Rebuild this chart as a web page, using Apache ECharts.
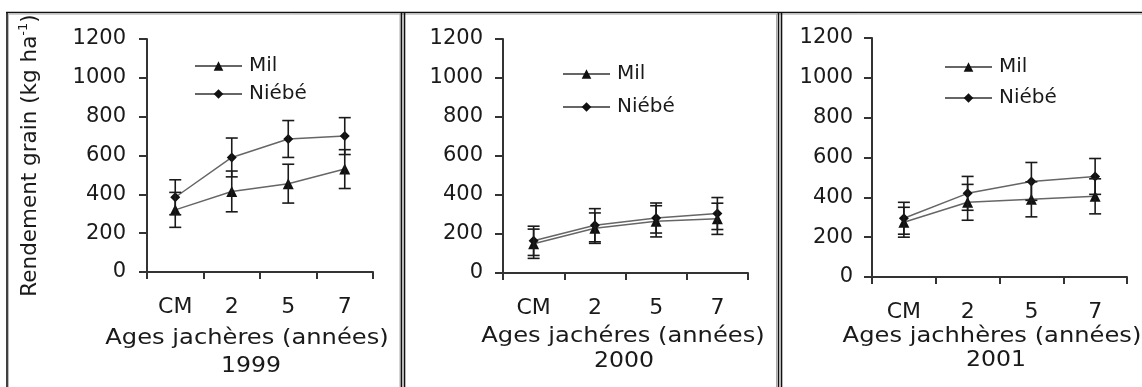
<!DOCTYPE html>
<html><head><meta charset="utf-8">
<script src="https://cdn.jsdelivr.net/npm/echarts@6/dist/echarts.min.js"></script>
<style>html,body{margin:0;padding:0;background:#fff}#c{width:1142px;height:387px}</style>
</head><body><div id="c"></div>
<script>
// ---- data ----
const categories = ['CM', '2', '5', '7'];
const years = ['1999', '2000', '2001'];
const xTitles = ['Ages jachères (années)', 'Ages jachéres (années)', 'Ages jachhères (années)'];
const seriesNames = ['Mil', 'Niébé'];
const yMin = 0, yMax = 1200, yStep = 200;

const mil1999 = [320, 415, 455, 530];
const milErr1999 = [90, 105, 100, 100];
const niebe1999 = [385, 590, 685, 700];
const niebeErr1999 = [90, 100, 95, 95];

const mil2000 = [150, 230, 265, 278];
const milErr2000 = [75, 78, 80, 80];
const niebe2000 = [165, 245, 282, 305];
const niebeErr2000 = [75, 85, 77, 82];

const mil2001 = [275, 375, 390, 405];
const milErr2001 = [75, 90, 88, 88];
const niebe2001 = [295, 420, 480, 505];
const niebeErr2001 = [80, 85, 95, 90];

const panels = [
  { mil: mil1999, milErr: milErr1999, niebe: niebe1999, niebeErr: niebeErr1999 },
  { mil: mil2000, milErr: milErr2000, niebe: niebe2000, niebeErr: niebeErr2000 },
  { mil: mil2001, milErr: milErr2001, niebe: niebe2001, niebeErr: niebeErr2001 }
];

// ---- layout ----
const FONT = 'DejaVu Sans';
const TXT = '#1a1a1a';
const AX = '#333';
const grids = [
  { left: 147, top: 39, width: 226, height: 233 },
  { left: 503, top: 39, width: 245, height: 234 },
  { left: 872, top: 38, width: 255, height: 239 }
];
const legendPos = [
  { left: 194, top: 56, itemGap: 8 },
  { left: 562, top: 64, itemGap: 13 },
  { left: 944, top: 57, itemGap: 11 }
];
const labelMargins = [21, 20, 19];
const titlePos = [[247, 339], [623, 337], [992, 337]];
const yearPos = [[251, 367], [624, 362], [996, 361]];

function errRender(params, api) {
  const i = api.value(0), lo = api.value(1), hi = api.value(2);
  const t = api.coord([i, hi]), b = api.coord([i, lo]);
  const hw = 6;
  const st = { stroke: '#1a1a1a', lineWidth: 1.6 };
  return { type: 'group', children: [
    { type: 'line', shape: { x1: t[0], y1: t[1], x2: b[0], y2: b[1] }, style: st },
    { type: 'line', shape: { x1: t[0] - hw, y1: t[1], x2: t[0] + hw, y2: t[1] }, style: st },
    { type: 'line', shape: { x1: b[0] - hw, y1: b[1], x2: b[0] + hw, y2: b[1] }, style: st }
  ]};
}

const xAxes = [], yAxes = [], series = [], legends = [], graphics = [];
panels.forEach((p, k) => {
  xAxes.push({
    type: 'category', gridIndex: k, data: categories, boundaryGap: true,
    axisLine: { lineStyle: { color: AX, width: 2 } },
    axisTick: { show: true, length: 7, lineStyle: { color: AX, width: 2 } },
    axisLabel: { color: TXT, fontFamily: FONT, fontSize: 22, margin: 24 },
    splitLine: { show: false }
  });
  const ya = {
    type: 'value', gridIndex: k, min: yMin, max: yMax, interval: yStep,
    axisLine: { show: true, lineStyle: { color: AX, width: 2 } },
    axisTick: { show: true, length: 8, lineStyle: { color: AX, width: 2 } },
    axisLabel: { color: TXT, fontFamily: FONT, fontSize: 21, margin: labelMargins[k],
      formatter: v => String(v) },
    splitLine: { show: false }
  };
  if (k === 0) {
    ya.name = '{a|Rendement grain (kg ha}{s|-1}{a|)}';
    ya.nameLocation = 'middle';
    ya.nameRotate = 90;
    ya.nameGap = 104;
    ya.nameTextStyle = {
      rich: {
        a: { color: TXT, fontFamily: FONT, fontSize: 21.5, lineHeight: 26 },
        s: { color: TXT, fontFamily: FONT, fontSize: 13, lineHeight: 14, verticalAlign: 'top' }
      }
    };
  }
  yAxes.push(ya);

  const lineCommon = {
    type: 'line', xAxisIndex: k, yAxisIndex: k, z: 2,
    lineStyle: { color: '#666', width: 1.5 },
    itemStyle: { color: '#111' },
    emphasis: { disabled: true }
  };
  series.push(Object.assign({}, lineCommon, {
    name: seriesNames[0], symbol: 'triangle', symbolSize: 11, data: p.mil
  }));
  series.push(Object.assign({}, lineCommon, {
    name: seriesNames[1], symbol: 'diamond', symbolSize: 10, data: p.niebe
  }));
  series.push({
    type: 'custom', xAxisIndex: k, yAxisIndex: k, z: 3, silent: true,
    renderItem: errRender, encode: { x: 0, y: [1, 2] },
    data: categories.map((c, i) => [i, p.mil[i] - p.milErr[i], p.mil[i] + p.milErr[i]])
  });
  series.push({
    type: 'custom', xAxisIndex: k, yAxisIndex: k, z: 3, silent: true,
    renderItem: errRender, encode: { x: 0, y: [1, 2] },
    data: categories.map((c, i) => [i, p.niebe[i] - p.niebeErr[i], p.niebe[i] + p.niebeErr[i]])
  });

  legends.push({
    data: seriesNames, orient: 'vertical', selectedMode: false,
    left: legendPos[k].left, top: legendPos[k].top, itemGap: legendPos[k].itemGap,
    itemWidth: 47, itemHeight: 12, padding: 0,
    textStyle: { color: TXT, fontFamily: FONT, fontSize: 20, lineHeight: 12, padding: [0, 0, 0, 2] }
  });

  graphics.push({
    type: 'text', x: titlePos[k][0], y: titlePos[k][1], scaleX: 1.18,
    style: { text: xTitles[k], fill: TXT, font: '20.5px "' + FONT + '"', align: 'center', verticalAlign: 'middle' }
  });
  graphics.push({
    type: 'text', x: yearPos[k][0], y: yearPos[k][1], scaleX: 1.15,
    style: { text: years[k], fill: TXT, font: '20.5px "' + FONT + '"', align: 'center', verticalAlign: 'middle' }
  });
});

// panel frames
const frame = (x1, y1, x2, y2, color, w) => ({
  type: 'line', silent: true, shape: { x1, y1, x2, y2 }, style: { stroke: color, lineWidth: w }
});
graphics.push(
  frame(6, 12.5, 1142, 12.5, '#111', 1.6),
  frame(8, 14.2, 1142, 14.2, '#bbb', 1),
  frame(7, 12, 7, 387, '#111', 1.6),
  frame(8.5, 14, 8.5, 387, '#bbb', 1),
  frame(400, 14, 400, 387, '#aaa', 1),
  frame(401.5, 12, 401.5, 387, '#111', 1.6),
  frame(404.5, 12, 404.5, 387, '#111', 1.6),
  frame(776.5, 14, 776.5, 387, '#aaa', 1),
  frame(778.5, 12, 778.5, 387, '#111', 1.6),
  frame(781.5, 12, 781.5, 387, '#111', 1.6)
);

const chart = echarts.init(document.getElementById('c'), null, { renderer: 'canvas' });
chart.setOption({
  animation: false,
  backgroundColor: '#fff',
  grid: grids,
  xAxis: xAxes,
  yAxis: yAxes,
  legend: legends,
  series: series,
  graphic: graphics
});
</script>
</body></html>
